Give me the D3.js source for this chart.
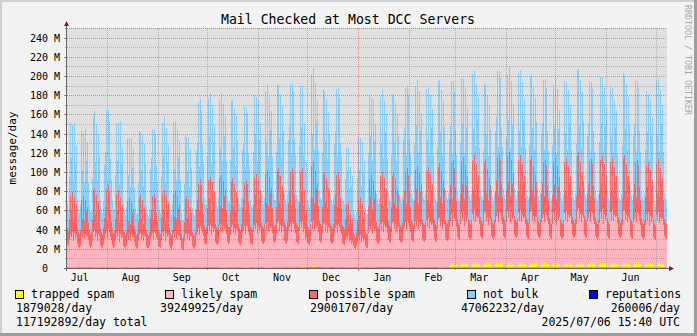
<!DOCTYPE html>
<html><head><meta charset="utf-8">
<script src="https://cdn.jsdelivr.net/npm/d3@7"></script>
<style>
html,body{margin:0;padding:0;background:#f3f3f3;}
svg{display:block;}
text{font-family:"DejaVu Sans Mono",monospace;}
</style></head><body>
<svg id="chart" width="697" height="336"></svg>
<script>
// ---------------- DATA ----------------
const startTime = new Date(Date.UTC(2024, 6, 7, 6, 0));
const endTime   = new Date(Date.UTC(2025, 6, 7, 6, 0));
const yTickValues = [0, 20, 40, 60, 80, 100, 120, 140, 160, 180, 200, 220, 240];
const seriesNames = ["trapped spam", "likely spam", "possible spam", "not bulk", "reputations"];
const legendValues = ["1879028/day", "39249925/day", "29001707/day", "47062232/day", "260006/day"];
const totalLabel = "117192892/day total";
const stampLabel = "2025/07/06 15:40 UTC";
const titleText = "Mail Checked at Most DCC Servers";
const yAxisTitle = "message/day";
const watermark = "RRDTOOL / TOBI OETIKER";

// millions of messages per day, one value per graph column
const trapped = [0.3,0.3,
0.6,0.9,0.7,1,0.5,0.9,0.7,0.8,0.4,0.3,0.3,0.4,
0.5,0.8,0.7,0.9,0.5,0.8,0.6,0.8,0.3,0.3,0.4,
0.6,1,0.7,0.9,0.5,0.9,0.7,0.7,0.4,0.3,0.3,0.4,
0.6,0.9,0.6,1,0.5,0.8,0.7,0.8,0.4,0.3,0.3,
0.7,0.9,0.7,1,0.6,0.9,0.7,0.8,0.4,0.3,0.3,0.4,
0.5,0.8,0.6,0.9,0.5,0.9,0.6,0.8,0.4,0.3,0.3,
0.6,0.9,0.7,1,0.5,0.9,0.7,0.8,0.4,0.3,0.4,0.4,
0.6,0.9,0.7,0.9,0.5,0.8,0.7,0.8,0.4,0.3,0.3,
0.6,1,0.7,1,0.6,0.9,0.7,0.8,0.4,0.3,0.3,0.4,
0.5,0.9,0.7,1,0.5,0.9,0.7,0.8,0.3,0.3,0.3,
0.6,0.9,0.7,1,0.5,0.9,0.7,0.8,0.4,0.3,0.3,0.4,
0.7,1,0.8,1.1,0.6,1,0.8,0.9,0.4,0.3,0.4,
0.7,1,0.8,1.1,0.6,1,0.8,0.9,0.4,0.4,0.3,0.4,
0.7,1.1,0.8,1.1,0.6,1,0.8,0.9,0.4,0.3,0.4,
0.7,1,0.8,1.1,0.6,1,0.8,0.9,0.4,0.3,0.3,0.4,
0.7,1,0.8,1,0.6,1,0.8,0.9,0.4,0.3,0.3,
0.8,1.1,0.8,1.2,0.6,1,0.8,0.9,0.4,0.4,0.3,0.4,
0.8,1.1,0.9,1.2,0.6,1.1,0.8,1,0.4,0.4,0.3,
0.8,1.2,0.9,1.2,0.7,1.1,0.8,1,0.5,0.4,0.3,0.4,
0.8,1.2,0.9,1.3,0.7,1.1,0.9,1,0.5,0.4,0.4,
0.9,1.5,1,1.8,0.7,1,0.6,0.7,0.4,0.4,0.3,0.4,
0.9,1.8,1,1.6,0.7,1.2,0.9,1,0.5,0.4,0.4,
0.8,1.2,0.9,1.3,0.7,1.1,0.9,1,0.5,0.4,0.3,0.4,
0.8,1.2,0.9,1.2,0.7,1.1,0.8,1,0.4,0.4,0.3,
0.6,0.8,0.7,0.9,0.5,0.7,0.5,0.6,0.4,0.3,0.3,0.4,
0.6,0.9,0.7,0.9,0.5,0.8,0.6,0.7,0.4,0.3,0.3,
0.8,1.1,0.9,1.2,0.7,1.1,0.8,1,0.5,0.4,0.3,0.4,
0.8,1.2,0.9,1.2,0.7,1.1,0.8,1,0.5,0.4,0.3,
0.8,1.1,0.9,1.2,0.7,1.1,0.8,1,0.4,0.4,0.3,0.4,
0.8,1.2,0.9,1.3,0.7,1.1,0.9,1,0.5,0.4,0.3,
0.9,1.2,0.9,1.3,0.7,1.1,0.9,1,0.5,0.4,0.4,0.4,
0.9,1.3,1,1.3,0.8,1.2,0.9,1.1,0.5,0.4,0.4,
0.9,1.3,1,1.4,0.8,1.2,1,1.1,0.5,0.4,0.4,0.5,
0.8,3,5,4,5,3,4,4,1.5,1,1.2,
3,5,4,5.5,3,5,4,4.5,1.5,1,1.2,1.5,
3.5,5.5,4,6,3,5,4,4.5,1.5,1.2,1,
3,5,4.5,5.5,3.5,5,4,4.5,1.6,1.2,1,1.4,
3.5,6,4,5.5,3,5.5,4,5,1.5,1.2,1.2,
3,5.5,4,6,3.5,5,4.5,4.5,1.5,1.1,1,1.5,
3.5,5,4.5,6,3,5.5,4,4.5,1.6,1.2,1.1,
3,5.5,4,5.5,3.5,5,4,5,1.5,1.2,1,1.4,
3.5,5.5,4.5,6,3,5,4,4.5,1.5,1.2,1,
3,5,4,5.5,3.5,5.5,4.5,4.5,1.5,1.1,1,1.5,
3.5,6,4,5.5,3,5,4,5,1.6,1.2,1.1,1.4,
3,5.5,4.5,6,3.5,5,4,4.5,1.5,1.2,1,
3.5,5,4,5.5,3,5.5,4,4.5,1.5,1.2,1,1.5,
3,5.5,4.5,6,3.5,5,4.5,5,1.6,1.2,1.1,
3.5,5.5,4,5.5,3,5,4,4.5,1.5,1.1,1,1.4,
3,6,4.5,5.5,3.5,5.5,4,4.5,1.5,1.2,1,
3.5,5,4,6,3,5,4.5,4.5,1.5,1.2,1,1.5,
3,5.5,4,5.5,3.5,5,4,5,1.6,1.2,1.1,
3.5,5.5,4.5,6,3,5,4,4.5,1.5,1.2,1];

const likely = [25,23,
29,35,32,37,28,36,31,34,25,22,21,23,
34,30,36,29,35,33,33,28,23,21,22,
28,37,39,31,36,27,35,33,24,22,21,24,
30,34,38,29,40,37,32,28,24,21,22,
29,36,32,38,27,35,31,33,23,22,20,22,
34,28,35,27,33,31,32,26,22,20,21,
28,35,36,29,34,27,33,32,23,21,20,22,
30,32,36,29,37,35,31,28,23,22,21,
29,37,33,38,28,36,32,34,24,21,20,23,
36,30,38,29,35,33,33,28,21,18,19,
28,34,36,29,35,27,33,31,22,21,20,22,
34,37,41,33,43,40,36,32,26,24,25,
35,43,38,44,34,42,37,40,27,25,24,26,
44,36,45,35,43,39,41,34,27,25,26,
34,42,44,35,41,33,40,39,27,25,24,27,
36,38,43,34,44,42,37,33,26,25,24,
37,44,40,46,35,43,39,41,28,26,25,27,
45,38,47,36,44,41,42,35,28,26,27,
36,46,48,37,44,35,43,41,28,26,25,28,
38,42,45,36,47,45,40,35,27,26,25,
38,46,41,47,37,40,30,32,26,25,24,27,
47,39,49,37,45,42,43,36,28,27,26,
36,45,46,37,44,35,42,41,27,26,25,27,
36,40,44,35,45,42,38,34,26,25,24,
29,32,30,33,27,28,25,27,22,21,20,22,
27,31,28,33,26,30,28,29,22,21,21,
36,43,39,45,35,42,38,40,28,26,25,27,
45,38,47,36,44,41,42,35,29,27,26,
37,46,48,39,45,36,43,42,29,27,26,28,
40,43,47,38,49,46,42,37,29,28,27,
40,48,44,50,39,47,43,45,30,28,27,29,
49,41,51,39,47,44,46,38,30,28,27,
40,50,52,42,48,39,47,45,31,29,28,30,
42,46,51,40,53,49,45,39,31,29,28,
43,52,46,54,41,50,45,48,31,30,28,30,
53,44,56,42,51,47,49,41,32,30,29,
41,52,55,43,50,40,48,46,32,30,29,31,
44,48,54,42,56,52,46,41,32,31,29,
45,55,48,57,43,53,47,50,33,31,30,32,
54,44,56,42,52,47,49,41,32,30,29,
43,53,57,45,51,42,50,48,33,31,30,32,
44,47,52,42,55,50,46,41,32,30,29,
43,53,46,55,41,51,45,49,32,30,29,31,
54,44,56,42,52,47,50,41,33,31,30,32,
43,55,58,45,53,42,51,48,33,31,30,
44,47,54,42,56,52,46,41,32,30,29,31,
44,53,47,55,42,51,46,49,32,30,29,
55,45,57,43,52,48,50,42,33,31,30,32,
42,54,56,44,52,41,49,47,32,30,29,
43,46,53,41,55,51,45,40,32,30,29,31,
42,51,45,53,40,49,44,47,31,29,28,
52,43,54,41,50,46,48,40,32,30,29];

const possible = [16,15,
21,39,27,41,19,37,26,32,17,15,14,16,
36,20,38,19,35,26,30,18,16,14,15,
21,42,44,23,40,20,34,28,17,15,14,17,
22,29,44,20,46,41,28,19,17,15,16,
21,40,27,42,19,38,26,32,16,15,14,16,
35,20,37,18,34,25,29,17,15,14,15,
19,37,39,21,36,18,30,26,16,14,13,15,
21,27,38,20,40,37,26,19,16,15,14,
22,40,28,42,20,39,27,33,17,15,14,16,
41,22,42,21,39,28,33,20,14,12,13,
19,37,38,21,36,18,30,26,15,14,13,15,
26,33,46,24,49,45,31,23,18,16,17,
27,48,34,50,25,47,32,38,18,17,16,18,
49,28,51,26,47,35,39,25,18,17,16,
25,47,49,27,46,24,38,34,18,16,15,18,
26,33,45,24,47,44,31,23,17,16,15,
28,49,35,51,26,48,33,39,19,17,16,18,
52,29,54,27,50,36,41,26,19,17,18,
27,53,55,30,51,26,42,37,19,18,17,19,
30,37,54,28,56,52,35,27,19,18,17,
30,53,37,55,27,40,24,28,17,16,15,18,
58,32,60,29,55,39,45,28,20,18,17,
27,51,53,29,49,26,40,36,19,17,16,18,
29,36,52,27,54,50,34,26,18,17,16,
21,34,24,35,18,28,20,24,14,13,12,14,
22,38,25,40,19,36,24,30,15,14,14,
28,49,34,51,26,48,33,39,19,17,16,18,
50,29,52,27,49,35,40,26,19,17,16,
26,49,51,28,48,25,39,35,18,17,16,18,
30,36,52,27,54,50,35,26,19,18,17,
30,53,37,55,28,51,35,42,19,18,17,19,
51,29,53,27,50,36,41,26,19,17,16,
28,54,56,31,52,27,43,37,19,18,17,19,
30,37,53,28,55,51,35,27,19,17,16,
31,54,37,56,28,52,36,43,19,18,17,19,
56,32,58,29,54,38,44,28,20,18,17,
27,52,54,30,50,26,42,36,19,17,16,18,
32,38,57,29,59,55,37,28,20,18,17,
32,56,38,58,29,54,37,44,20,18,17,19,
55,31,57,28,53,37,43,27,19,18,17,
28,54,56,31,52,27,43,37,19,17,16,18,
30,36,53,27,55,51,35,26,19,17,16,
30,52,36,54,27,50,35,41,18,17,16,18,
53,31,55,28,51,37,42,27,19,17,16,18,
29,56,58,32,54,28,44,38,20,18,17,
30,36,53,27,55,51,35,26,19,17,16,18,
31,54,37,56,28,52,36,43,19,17,16,
52,30,54,27,50,36,42,26,19,17,16,18,
28,55,57,31,53,27,43,37,19,18,17,
30,36,53,27,55,51,35,26,19,17,16,18,
29,50,35,52,26,48,34,40,18,16,15,
53,30,55,27,51,36,42,26,18,17,16];

const notBulk = [25,22,
44,76,55,70,42,77,52,60,28,24,22,26,
72,50,66,41,74,52,68,42,26,23,22,
43,77,80,56,73,44,70,54,28,24,22,27,
55,57,82,43,78,74,53,44,28,24,23,
46,74,52,70,41,79,51,60,27,23,21,25,
66,48,63,38,68,47,62,40,25,22,21,
41,70,66,51,68,39,65,50,26,22,21,24,
52,55,70,40,67,66,49,42,26,23,22,
44,73,54,76,41,70,51,60,27,23,21,26,
75,50,72,41,69,53,66,43,22,19,18,
40,67,62,49,65,38,60,46,25,22,21,24,
62,59,85,48,83,78,60,52,28,25,24,
54,84,64,87,49,80,61,70,29,26,24,28,
82,60,86,49,80,63,78,50,29,26,25,
53,84,81,62,78,48,80,59,28,25,24,27,
60,57,80,46,75,74,51,48,27,24,23,
55,86,64,80,50,83,61,70,29,26,25,28,
87,63,90,52,84,66,80,54,30,27,26,
57,91,87,67,85,52,83,64,30,27,25,29,
65,68,92,53,89,86,58,55,30,27,26,
58,89,68,86,53,70,45,50,27,25,24,28,
96,67,98,55,92,70,85,58,31,28,27,
56,88,83,65,82,51,80,62,30,27,25,28,
63,66,90,52,88,84,57,55,29,27,26,
42,59,46,56,38,50,40,44,24,22,20,23,
44,66,48,62,40,64,45,52,25,22,21,
55,87,64,80,50,84,61,70,30,27,25,28,
82,61,86,50,80,64,78,52,30,27,26,
54,85,80,63,78,49,78,60,29,27,25,28,
63,66,88,51,85,83,56,54,30,27,26,
57,87,67,90,52,85,64,73,30,27,26,29,
86,62,82,50,82,65,78,52,29,27,25,
57,90,87,67,85,52,84,64,30,27,26,29,
60,62,86,47,82,80,60,48,28,25,24,
53,87,63,81,48,83,61,71,29,26,24,27,
90,63,87,50,84,65,80,52,29,26,25,
51,82,78,60,77,46,76,58,28,25,23,26,
63,65,90,50,87,85,60,52,29,26,25,
54,85,64,89,49,83,62,72,29,26,24,27,
91,63,89,50,86,65,80,53,29,26,25,
54,87,84,64,82,49,80,62,28,26,24,27,
61,63,86,48,84,82,58,50,28,25,24,
52,81,62,85,47,80,60,70,28,25,23,26,
84,60,79,47,79,62,74,50,28,25,24,27,
55,90,87,65,85,50,84,63,29,26,25,
60,62,84,47,80,79,58,49,28,25,23,26,
53,86,63,82,48,81,61,70,28,25,24,
78,56,72,44,70,58,68,46,27,24,23,26,
54,88,84,64,83,49,82,62,28,26,24,
61,63,86,48,82,80,58,50,28,25,24,27,
49,78,58,71,44,72,55,64,27,24,23,
86,61,83,48,81,63,76,50,27,25,24];

// reputations: one value per week (millions/day)
const reputations = [0.2,0.25,0.2,0.25,0.2,0.2,0.25,0.2,0.3,0.25,0.2,0.25,0.3,0.2,0.25,0.2,0.25,0.2,0.25,0.3,0.3,0.35,0.3,0.3,0.25,0.25,0.3,0.35,0.3,0.25,0.25,0.3,0.25,0.25,0.3,0.25,0.25,0.3,0.25,0.25,0.3,0.25,0.25,0.3,0.25,0.25,0.3,0.25,0.25,0.3,0.25,0.25,0.25];

// ---------------- DRAW ----------------
const W = 697, H = 336;
const plot = {left: 67, right: 667, top: 28, bottom: 268};
const colors = {trapped: "#ffff00", likely: "#ffb6c1", possible: "#ff6666", notBulk: "#87cefa", reputations: "#0000ff"};
const svg = d3.select("#chart");

// frame
svg.append("rect").attr("x",0).attr("y",0).attr("width",W).attr("height",H).attr("fill","#f3f3f3");
svg.append("rect").attr("x",0).attr("y",0).attr("width",W).attr("height",2).attr("fill","#cfcfcf");
svg.append("rect").attr("x",0).attr("y",0).attr("width",2).attr("height",H).attr("fill","#cfcfcf");
svg.append("rect").attr("x",0).attr("y",H-3).attr("width",W).attr("height",3).attr("fill","#9e9e9e");
svg.append("rect").attr("x",W-3).attr("y",0).attr("width",3).attr("height",H).attr("fill","#9e9e9e");

const n = Math.min(trapped.length, likely.length, possible.length, notBulk.length);
const step = (endTime - startTime) / 600;
const x = d3.scaleUtc().domain([startTime, endTime]).range([plot.left, plot.right]);
const y = d3.scaleLinear().domain([0, 250]).range([plot.bottom, plot.top]);

svg.append("rect").attr("x",plot.left).attr("y",plot.top)
  .attr("width",plot.right-plot.left).attr("height",plot.bottom-plot.top).attr("fill","#e0e0e0");

const rows = d3.range(n).map(i => ({
  t0: new Date(+startTime + i * step), t1: new Date(+startTime + (i + 1) * step),
  trapped: trapped[i], likely: likely[i], possible: possible[i], notBulk: notBulk[i]}));
const keys = ["trapped", "likely", "possible", "notBulk"];
const stacked = d3.stack().keys(keys)(rows);
const layers = svg.append("g").attr("shape-rendering","crispEdges");
stacked.forEach(layer => {
  layers.append("g").attr("fill", colors[layer.key]).selectAll("rect").data(layer).join("rect")
    .attr("x", d => Math.round(x(d.data.t0)))
    .attr("width", d => Math.round(x(d.data.t1)) - Math.round(x(d.data.t0)))
    .attr("y", d => y(d[1]))
    .attr("height", d => Math.max(0, y(d[0]) - y(d[1])));
});

// grid (drawn over data, as rrdtool does)
const grid = svg.append("g");
const minorY = d3.range(10, 251, 10).filter(v => v % 20 !== 0);
const majorY = d3.range(20, 241, 20);
minorY.concat([250]).forEach(v => {
  const yy = Math.round(y(v)) + 0.5;
  grid.append("line").attr("x1",plot.left).attr("x2",plot.right).attr("y1",yy).attr("y2",yy)
    .attr("stroke","rgba(120,120,120,0.45)").attr("stroke-dasharray","1,1");
  grid.append("line").attr("x1",plot.left-2).attr("x2",plot.left).attr("y1",yy).attr("y2",yy)
    .attr("stroke","rgba(120,120,120,0.6)");
});
majorY.forEach(v => {
  const yy = Math.round(y(v)) + 0.5;
  grid.append("line").attr("x1",plot.left).attr("x2",plot.right).attr("y1",yy).attr("y2",yy)
    .attr("stroke","rgba(180,40,40,0.45)").attr("stroke-dasharray","1,1");
  grid.append("line").attr("x1",plot.left-3).attr("x2",plot.left).attr("y1",yy).attr("y2",yy)
    .attr("stroke","rgba(150,30,30,0.6)");
});
const months = d3.utcMonth.range(d3.utcMonth.ceil(startTime), endTime);
months.forEach(m => {
  const xx = Math.round(x(m)) - 0.5;
  const major = m.getUTCMonth() === 0;
  grid.append("line").attr("x1",xx).attr("x2",xx).attr("y1",plot.top).attr("y2",plot.bottom)
    .attr("stroke", major ? "rgba(180,40,40,0.45)" : "rgba(120,120,120,0.45)").attr("stroke-dasharray","1,1");
  grid.append("line").attr("x1",xx).attr("x2",xx).attr("y1",plot.bottom).attr("y2",plot.bottom+ (major?3:2))
    .attr("stroke", major ? "rgba(150,30,30,0.6)" : "rgba(120,120,120,0.6)");
});

// reputations line
const repStep = (endTime - startTime) / 52;
const repRows = reputations.map((v, i) => ({t: new Date(Math.min(+startTime + i * repStep, +endTime)), v}));
svg.append("path").datum(repRows)
  .attr("d", d3.line().curve(d3.curveStepAfter).x(d => x(d.t)).y(d => y(d.v) + 0.5))
  .attr("fill","none").attr("stroke",colors.reputations).attr("stroke-width",1);

// axes
svg.append("line").attr("x1",plot.left-0.5).attr("x2",plot.left-0.5).attr("y1",plot.bottom+3).attr("y2",plot.top-3)
  .attr("stroke","#666");
svg.append("line").attr("x1",plot.left-3).attr("x2",plot.right+2).attr("y1",plot.bottom+0.5).attr("y2",plot.bottom+0.5)
  .attr("stroke","#666");
svg.append("path").attr("d",`M${plot.left-3},${plot.top-2} L${plot.left+2},${plot.top-2} L${plot.left-0.5},${plot.top-7} Z`).attr("fill","#8b1a1a");
svg.append("path").attr("d",`M${plot.right+2},${plot.bottom-2} L${plot.right+2},${plot.bottom+3} L${plot.right+7},${plot.bottom+0.5} Z`).attr("fill","#8b1a1a");

// y tick labels
const yl = svg.append("g").attr("font-size","10px").attr("fill","#000");
yTickValues.forEach(v => {
  const yy = Math.round(y(v)) + 4;
  yl.append("text").attr("x",48).attr("y",yy).attr("text-anchor","end").text(v);
  if (v !== 0) yl.append("text").attr("x",54).attr("y",yy).text("M");
});
// x labels (centred half a month after each month start)
const xl = svg.append("g").attr("font-size","10px").attr("fill","#000");
d3.utcMonth.range(d3.utcMonth.floor(startTime), endTime).forEach(m => {
  const mid = d3.utcDay.offset(m, 14);
  if (mid < startTime || mid > endTime) return;
  xl.append("text").attr("x", x(mid)).attr("y", 281).attr("text-anchor","middle").text(d3.utcFormat("%b")(m));
});

// title & axis title
svg.append("text").attr("x",348).attr("y",24).attr("text-anchor","middle").attr("font-size","13.2px").text(titleText);
svg.append("text").attr("transform","translate(15.5,148) rotate(-90)").attr("text-anchor","middle").attr("font-size","11px").text(yAxisTitle);
svg.append("text").attr("transform","translate(685,5) rotate(90)").attr("font-size","8.3px").attr("fill","#a8a8a8").text(watermark);

// legend
const lg = svg.append("g").attr("font-size","11.5px").attr("fill","#000");
const legendBoxX = [15.5, 165.5, 309.5, 467.5, 589.5];
const legendColors = [colors.trapped, colors.likely, colors.possible, colors.notBulk, colors.reputations];
seriesNames.forEach((s, i) => {
  lg.append("rect").attr("x",legendBoxX[i]).attr("y",290.5).attr("width",8).attr("height",8)
    .attr("fill",legendColors[i]).attr("stroke","#000").attr("stroke-width",1);
  lg.append("text").attr("x",legendBoxX[i]+15.5).attr("y",298).text(s);
});
const valueX = [16, 160, 310, 461, null];
legendValues.forEach((v, i) => {
  if (valueX[i] === null) lg.append("text").attr("x",680).attr("y",312).attr("text-anchor","end").text(v);
  else lg.append("text").attr("x",valueX[i]).attr("y",312).text(v);
});
lg.append("text").attr("x",16).attr("y",326).text(totalLabel);
lg.append("text").attr("x",680).attr("y",326).attr("text-anchor","end").text(stampLabel);
</script>
</body></html>
